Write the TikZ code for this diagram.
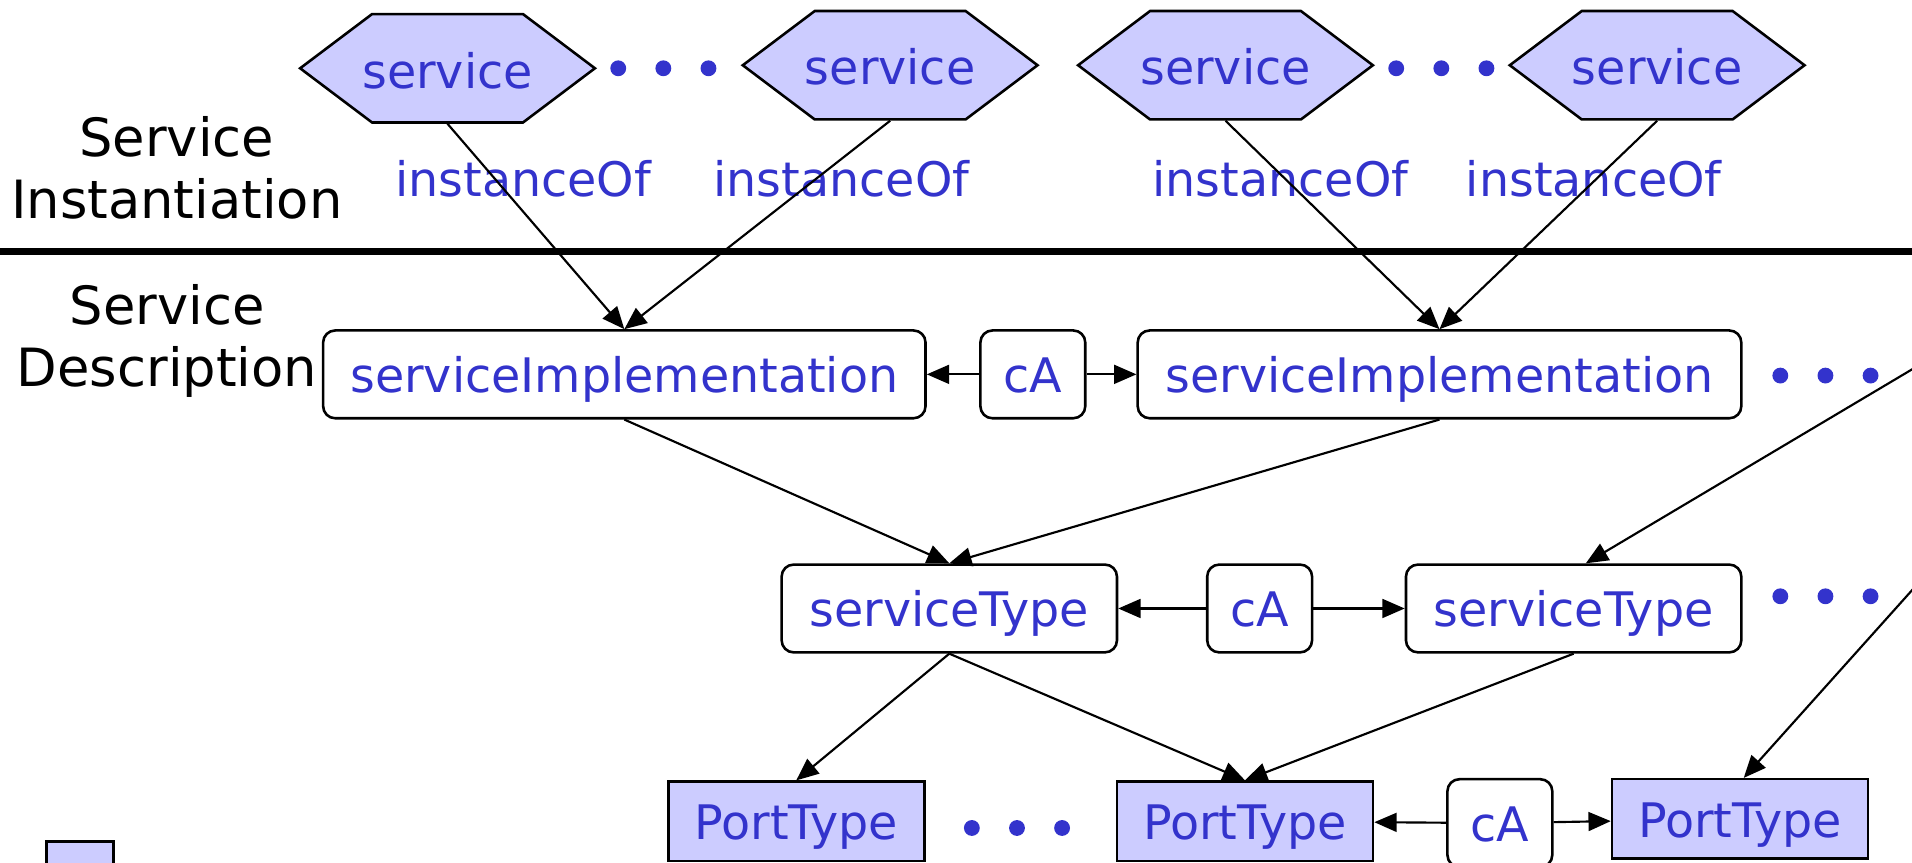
\documentclass[tikz,border=0pt]{standalone}
\usepackage{fontspec}
\setmainfont{DejaVu Sans}
\usetikzlibrary{arrows.meta,shapes.symbols}
\definecolor{ablue}{RGB}{51,51,204}
\definecolor{afill}{RGB}{204,204,255}
\tikzset{
    lbl/.style={text=ablue, font=\fontsize{11.1}{13}\selectfont},
    side/.style={align=center, font=\fontsize{12.3}{14.6}\selectfont},
    hexbox/.style={shape=signal, signal to=west and east, signal pointer angle=74,
        draw, line width=0.6pt, fill=afill, text height=17.25pt, text depth=8.05pt,
        inner ysep=0pt, inner xsep=-0.08cm, lbl},
    rbox/.style={draw, line width=0.6pt, rounded corners=2.8pt, fill=white,
        minimum height=0.72cm, inner xsep=0pt, text height=11pt, text depth=2.4pt, lbl},
    pbox/.style={draw, line width=0.6pt, fill=afill, minimum height=0.65cm,
        minimum width=2.1cm, inner sep=0pt, text height=11pt, text depth=2.4pt, lbl},
    conn/.style={-{Triangle[length=5.2pt,width=4.4pt]}, line width=0.5pt},
}

\begin{document}
\begin{tikzpicture}
            \useasboundingbox (0,0) rectangle (15.68,-7.07);
            \clip (0,0) rectangle (15.68,-7.07);

            % instances
            \node[hexbox] (s1) at (3.67,-0.56) {service};
            \node[hexbox] (s2) at (7.30,-0.535) {service};
            \node[hexbox] (s3) at (10.05,-0.535) {service};
            \node[hexbox] (s4) at (13.59,-0.535) {service};
            \foreach \x in {5.07,5.44,5.81,11.45,11.82,12.19}
                \fill[ablue] (\x,-0.56) circle (0.065);

            \node[side] (inst) at (1.45,-1.375) {Service\\Instantiation};
            \node[side] (desc) at (1.37,-2.795) {Service\\Description};

            \node[lbl, anchor=base] (io1) at (4.29,-1.615) {instanceOf};
            \node[lbl, anchor=base] (io2) at (6.90,-1.615) {instanceOf};
            \node[lbl, anchor=base] (io3) at (10.50,-1.615) {instanceOf};
            \node[lbl, anchor=base] (io4) at (13.07,-1.615) {instanceOf};

            \draw[line width=1.7pt] (0,-2.06) -- (15.68,-2.06);

            % descriptions
            \node[rbox, minimum width=4.94cm] (si1) at (5.12,-3.07) {serviceImplementation};
            \node[rbox, minimum width=0.86cm] (ca1) at (8.47,-3.07) {cA};
            \node[rbox, minimum width=4.95cm] (si2) at (11.805,-3.07) {serviceImplementation};

            \node[rbox, minimum width=2.75cm] (st1) at (7.785,-4.99) {serviceType};
            \node[rbox, minimum width=0.86cm] (ca2) at (10.33,-4.99) {cA};
            \node[rbox, minimum width=2.75cm] (st2) at (12.905,-4.99) {serviceType};

            \node[pbox] (pt1) at (6.53,-6.735) {PortType};
            \node[pbox] (pt2) at (10.21,-6.735) {PortType};
            \node[rbox, minimum width=0.86cm] (ca3) at (12.30,-6.75) {cA};
            \node[pbox] (pt3) at (14.27,-6.715) {PortType};

            \foreach \x in {14.60,14.97,15.34} {
                \fill[ablue] (\x,-3.08) circle (0.065);
                \fill[ablue] (\x,-4.89) circle (0.065);
            }
            \foreach \x in {7.97,8.34,8.71}
                \fill[ablue] (\x,-6.79) circle (0.065);

            \node[pbox, minimum width=0.55cm, minimum height=0.6cm, anchor=north west] (key) at (0.37,-6.89) {};

            % links
            \draw[conn] (s1.south) -- (si1.north);
            \draw[conn] (s2.south) -- (si1.north);
            \draw[conn] (s3.south) -- (si2.north);
            \draw[conn] (s4.south) -- (si2.north);

            \draw[conn] (ca1) -- (si1);
            \draw[conn] (ca1) -- (si2);
            \draw[conn] (ca2) -- (st1);
            \draw[conn] (ca2) -- (st2);
            \draw[conn] (ca3) -- (pt2);
            \draw[conn] (ca3) -- (pt3);

            \draw[conn] (si1.south) -- (st1.north);
            \draw[conn] (si2.south) -- (st1.north);
            \draw[conn] (st1.south) -- (pt1.north);
            \draw[conn] (st1.south) -- (pt2.north);
            \draw[conn] (st2.south) -- (pt2.north);

            \coordinate (offA) at (16.2,-2.72);
            \coordinate (offB) at (16.2,-4.26);
            \draw[conn] (offA) -- ([xshift=0.1cm]st2.north);
            \draw[conn] (offB) -- ([xshift=0.03cm]pt3.north);
\end{tikzpicture}
\end{document}
